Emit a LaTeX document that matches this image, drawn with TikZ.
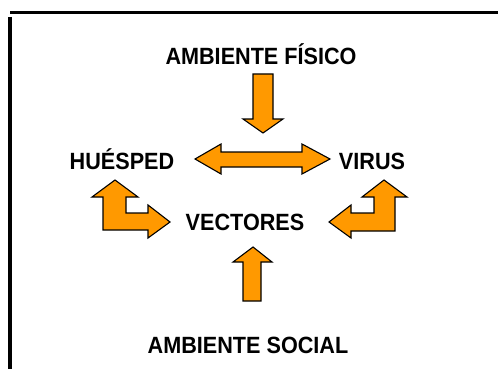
\documentclass[tikz,border=0pt]{standalone}
\usepackage{fontspec}
\usepackage{graphicx}
\setmainfont{Liberation Sans}

\definecolor{arrowfill}{HTML}{FF9900}
\newcommand{\narrowtext}[1]{\scalebox{0.92}[1]{#1}}
\tikzset{
  labeltext/.style={font=\bfseries\fontsize{23.5}{26}\selectfont, anchor=base, inner sep=0pt},
  blockarrow/.style={fill=arrowfill, draw=black, line width=1.1pt, line join=miter}
}

\begin{document}
\begin{tikzpicture}[x=1pt,y=-1pt]
\useasboundingbox (0,0) rectangle (498,369);

% Frame
\draw[line width=3pt] (10,12.5) -- (498,12.5);
\draw[line width=3.5pt] (10,17) -- (10,369);

% Labels
\node[labeltext] (fisico) at (261,65) {\narrowtext{AMBIENTE FÍSICO}};
\node[labeltext] (huesped) at (122,169) {\narrowtext{HUÉSPED}};
\node[labeltext] (virus) at (372,169) {\narrowtext{VIRUS}};
\node[labeltext] (vectores) at (245,230) {\narrowtext{VECTORES}};
\node[labeltext] (social) at (248,353) {\narrowtext{AMBIENTE SOCIAL}};

% Arrow down from ambiente fisico
\draw[blockarrow] (253,74) -- (273,74) -- (273,119) -- (283,119) -- (263,133)
  -- (243,119) -- (253,119) -- cycle;

% Double arrow huesped - virus
\draw[blockarrow] (195,159) -- (221,144) -- (221,152) -- (302,152) -- (302,144)
  -- (330,159) -- (302,174) -- (302,167) -- (221,167) -- (221,174) -- cycle;

% Arrow up from ambiente social
\draw[blockarrow] (253,247) -- (272,262) -- (261,262) -- (261,301) -- (243,301)
  -- (243,262) -- (233,262) -- cycle;

% Bent arrow on the left
\draw[blockarrow] (115,180) -- (138,197) -- (126,197) -- (126,213) -- (148,213)
  -- (148,205) -- (170,222) -- (148,238) -- (148,230) -- (103,230) -- (103,197)
  -- (92,197) -- cycle;

% Bent arrow on the right
\draw[blockarrow] (384,180) -- (407,197) -- (395,197) -- (395,231) -- (351,231)
  -- (351,238) -- (329,222) -- (351,205) -- (351,213) -- (374,213) -- (374,197)
  -- (362,197) -- cycle;

\end{tikzpicture}
\end{document}
